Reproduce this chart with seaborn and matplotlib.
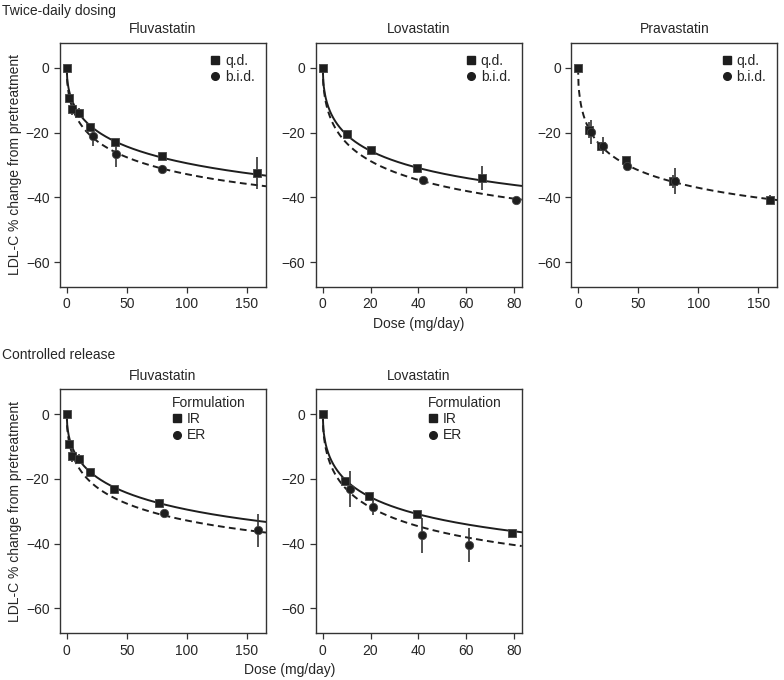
import numpy as np
import pandas as pd
import matplotlib
matplotlib.use("Agg")
import matplotlib.pyplot as plt
import seaborn as sns
from matplotlib.lines import Line2D

# ---- data ----
# fluvastatin once daily / IR
fluva_qd_dose = [0, 2.2, 4.4, 10, 19.6, 39.8, 79.6, 158.6]
fluva_qd_ldl = [0, -9.2, -12.7, -13.9, -18.2, -22.9, -27.1, -32.4]
fluva_qd_err = [0, 0, 1.8, 1.5, 0, 0, 0, 5.0]
# fluvastatin twice daily
fluva_bid_dose = [21.8, 41.4, 79.6]
fluva_bid_ldl = [-20.9, -26.7, -31.1]
fluva_bid_err = [3.2, 3.9, 1.2]

# lovastatin once daily
lova_qd_dose = [0, 10.3, 20, 39.6, 66.8]
lova_qd_ldl = [0, -20.5, -25.3, -30.9, -34.0]
lova_qd_err = [0, 0, 0, 0, 3.7]
# lovastatin twice daily
lova_bid_dose = [41.8, 81]
lova_bid_ldl = [-34.7, -40.8]
lova_bid_err = [0, 0]

# pravastatin
prava_qd_dose = [0, 8.8, 19.2, 39.6, 79.4, 159.6]
prava_qd_ldl = [0, -19.1, -24.1, -28.5, -35.0, -40.7]
prava_qd_err = [0, 2.5, 0, 0, 2.0, 1.5]
prava_bid_dose = [11, 21.2, 41.2, 80.8]
prava_bid_ldl = [-19.8, -24.1, -30.3, -35.0]
prava_bid_err = [3.8, 2.6, 1.4, 4.0]

# controlled release, fluvastatin
fluva_ir_dose = [0, 2.2, 4.4, 10, 19.6, 39.7, 77]
fluva_ir_ldl = [0, -9.2, -12.8, -13.8, -17.9, -23.0, -27.3]
fluva_ir_err = [0, 0, 1.9, 1.5, 0, 0, 1.0]
fluva_er_dose = [80.7, 159.5]
fluva_er_ldl = [-30.6, -35.9]
fluva_er_err = [0, 5.1]

# controlled release, lovastatin
lova_ir_dose = [0, 9.4, 19.3, 39.3, 79.2]
lova_ir_ldl = [0, -20.5, -25.3, -30.8, -36.6]
lova_ir_err = [0, 0, 0, 0, 0]
lova_er_dose = [11.5, 21.2, 41.4, 61.3]
lova_er_ldl = [-23.1, -28.7, -37.4, -40.5]
lova_er_err = [5.5, 2.3, 5.4, 5.3]

# fitted Emax curves (emax, ED50, hill) as drawn in the figure
fluva_qd_fit = (60.6, 111.7, 0.5)
fluva_bid_fit = (60.4, 70.4, 0.5)
lova_qd_fit = (61.3, 38.6, 0.5)
lova_bid_fit = (67.7, 36.5, 0.5)
prava_fit = (63.4, 50.6, 0.5)

DARK = "#1e1e1e"
FS = 10
DASH = (0, (3.5, 2.2))

sns.set_style("ticks")
plt.rcParams["font.family"] = ["Liberation Sans", "DejaVu Sans"]
plt.rcParams["axes.edgecolor"] = "#333333"
plt.rcParams["axes.linewidth"] = 1.0


def emax_curve(ax, fit, xmax, ls):
    emax, ed50, h = fit
    d = np.linspace(0, xmax, 400)
    eff = -emax * d ** h / (ed50 ** h + d ** h)
    sns.lineplot(x=d, y=eff, ax=ax, color=DARK, lw=1.4, linestyle=ls,
                 sort=False, estimator=None)


def points(ax, dose, ldl, err, marker, size):
    for x, y, e in zip(dose, ldl, err):
        if e > 0:
            ax.vlines(x, y - e, y + e, color="#333333", lw=1.2, zorder=3)
    sns.scatterplot(x=dose, y=ldl, ax=ax, marker=marker, s=size,
                    color=DARK, edgecolor="#444444", linewidth=0.6, zorder=4)


def setup(ax, title, xmax, xticks, ylabel=False):
    ax.set_xlim(-xmax * 0.032 - 0.3, xmax * 1.0)
    ax.set_ylim(-67.7, 7.7)
    ax.set_yticks([0, -20, -40, -60])
    ax.set_xticks(xticks)
    ax.tick_params(labelsize=FS, length=4, width=0.9, color="#333333")
    ax.set_title(title, fontsize=FS, pad=7)
    if ylabel:
        ax.set_ylabel("LDL-C % change from pretreatment", fontsize=FS,
                      labelpad=3)
    for s in ax.spines.values():
        s.set_visible(True)


def legend(ax, labels, title=None, anchor=(1.0, 1.0), pad=0.6):
    handles = [Line2D([], [], ls="", marker="s", ms=5.5, color=DARK),
               Line2D([], [], ls="", marker="o", ms=5.5, color=DARK)]
    ax.legend(handles, labels, title=title, loc="upper right",
              bbox_to_anchor=anchor, frameon=False, fontsize=FS,
              title_fontsize=FS, handletextpad=0.3, borderaxespad=pad,
              labelspacing=0.15, handlelength=0.8, alignment="left",
              borderpad=0.2)


fig = plt.figure(figsize=(7.84, 6.8), dpi=100)
W, H = 206 / 784, 244 / 680
lefts = [60 / 784, 315.7 / 784, 571.3 / 784]
top_b, bot_b = 0.578, 0.0687

# ---- twice-daily dosing ----
ax = fig.add_axes([lefts[0], top_b, W, H])
emax_curve(ax, fluva_qd_fit, 166, "-")
emax_curve(ax, fluva_bid_fit, 166, DASH)
points(ax, fluva_qd_dose, fluva_qd_ldl, fluva_qd_err, "s", 36)
points(ax, fluva_bid_dose, fluva_bid_ldl, fluva_bid_err, "o", 36)
setup(ax, "Fluvastatin", 166, [0, 50, 100, 150], ylabel=True)
legend(ax, ["q.d.", "b.i.d."])

ax = fig.add_axes([lefts[1], top_b, W, H])
emax_curve(ax, lova_qd_fit, 83.3, "-")
emax_curve(ax, lova_bid_fit, 83.3, DASH)
points(ax, lova_qd_dose, lova_qd_ldl, lova_qd_err, "s", 36)
points(ax, lova_bid_dose, lova_bid_ldl, lova_bid_err, "o", 36)
setup(ax, "Lovastatin", 83.3, [0, 20, 40, 60, 80])
ax.set_xlabel("Dose (mg/day)", fontsize=FS)
legend(ax, ["q.d.", "b.i.d."])

ax = fig.add_axes([lefts[2], top_b, W, H])
emax_curve(ax, prava_fit, 166, DASH)
points(ax, prava_qd_dose, prava_qd_ldl, prava_qd_err, "s", 36)
points(ax, prava_bid_dose, prava_bid_ldl, prava_bid_err, "o", 36)
setup(ax, "Pravastatin", 166, [0, 50, 100, 150])
legend(ax, ["q.d.", "b.i.d."])

# ---- controlled release ----
ax = fig.add_axes([lefts[0], bot_b, W, H])
emax_curve(ax, fluva_qd_fit, 166, "-")
emax_curve(ax, fluva_bid_fit, 166, DASH)
points(ax, fluva_ir_dose, fluva_ir_ldl, fluva_ir_err, "s", 36)
points(ax, fluva_er_dose, fluva_er_ldl, fluva_er_err, "o", 36)
setup(ax, "Fluvastatin", 166, [0, 50, 100, 150], ylabel=True)
legend(ax, ["IR", "ER"], title="Formulation", anchor=(0.935, 1.0), pad=0.3)

ax = fig.add_axes([lefts[1], bot_b, W, H])
emax_curve(ax, lova_qd_fit, 83.3, "-")
emax_curve(ax, lova_bid_fit, 83.3, DASH)
points(ax, lova_ir_dose, lova_ir_ldl, lova_ir_err, "s", 36)
points(ax, lova_er_dose, lova_er_ldl, lova_er_err, "o", 36)
setup(ax, "Lovastatin", 83.3, [0, 20, 40, 60, 80])
legend(ax, ["IR", "ER"], title="Formulation", anchor=(0.935, 1.0), pad=0.3)

fig.text(2 / 784, 1 - 11 / 680, "Twice-daily dosing", fontsize=FS, va="center")
fig.text(2 / 784, 1 - 355 / 680, "Controlled release", fontsize=FS, va="center")
fig.text(290 / 784, 1 - 670 / 680, "Dose (mg/day)", fontsize=FS,
         ha="center", va="center")

fig.savefig("out.png", dpi=100)
